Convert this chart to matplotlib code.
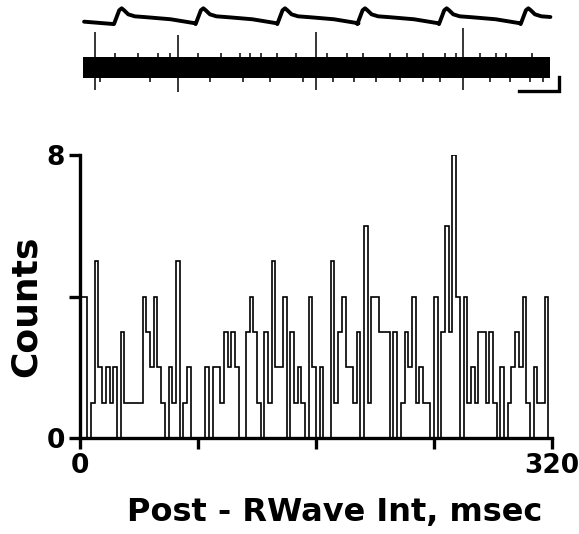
import numpy as np
import matplotlib
matplotlib.use('Agg')
import matplotlib.pyplot as plt

# histogram: 128 bins of 2.5 msec over 0-320 msec
bin_width = 2.5
counts = [4, 4, 0, 1, 5, 2, 1, 2, 1, 2, 0, 3, 1, 1, 1, 1, 1, 4, 3, 2,
          4, 2, 1, 0, 2, 1, 5, 0, 1, 2, 0, 0, 0, 0, 2, 0, 2, 2, 1, 3,
          2, 3, 2, 0, 0, 3, 4, 3, 1, 0, 3, 1, 5, 2, 2, 4, 0, 3, 1, 2,
          1, 0, 4, 2, 0, 2, 0, 0, 5, 1, 3, 4, 2, 2, 1, 3, 0, 6, 1, 4,
          4, 3, 3, 3, 0, 3, 0, 1, 3, 2, 4, 1, 2, 1, 1, 0, 4, 0, 3, 6,
          3, 8, 4, 0, 4, 1, 2, 1, 3, 3, 1, 3, 1, 0, 2, 0, 1, 2, 3, 2,
          4, 1, 0, 2, 1, 1, 4, 0]
x_ticks = [0, 80, 160, 240, 320]
x_ticklabels = ['0', '', '', '', '320']
y_ticks = [0, 4, 8]
y_ticklabels = ['0', '', '8']

# top traces (time in RR units)
beat_times = [0.51, 1.51, 2.51, 3.49, 4.49, 5.49]
beat_dt = [-0.094, -0.03, 0.0, 0.03, 0.08, 0.16, 0.31, 0.60, 0.90]
beat_v = [-0.18, 0.85, 1.0, 0.85, 0.55, 0.4, 0.33, 0.18, -0.12]
trace_start, trace_end = 0.05, 5.76

big_spike_t = [0.18, 1.20, 2.89, 4.69]
big_spike_up = [0.75, 0.68, 0.75, 0.83]
big_spike_down = [-0.47, -0.52, -0.47, -0.47]
up_tick_t = [0.43, 0.71, 0.96, 1.10, 1.45, 1.73, 1.96, 2.08, 2.22, 2.41, 2.65,
             3.02, 3.27, 3.47, 3.80, 4.00, 4.20, 4.47, 4.61, 4.90, 5.10, 5.22, 5.53]
down_tick_t = [0.24, 0.86, 1.59, 2.00, 2.33, 2.73, 3.10, 3.35, 3.63, 3.92,
               4.20, 4.41, 5.02, 5.27, 5.51, 5.67]

W, H = 579, 534
fig = plt.figure(figsize=(W / 100, H / 100), dpi=100)


def fbox(x0, y0, x1, y1):
    # pixel box (top-left origin) -> figure fraction rect
    return [x0 / W, 1 - y1 / H, (x1 - x0) / W, (y1 - y0) / H]


# ---- ECG trace
ax_ecg = fig.add_axes(fbox(80, 0, 570, 40))
ax_ecg.set_xlim(0, 6)
ax_ecg.set_ylim(-1.37, 1.62)
t = [trace_start]
v = [0.0]
for b in beat_times:
    t += [b + d for d in beat_dt]
    v += beat_v
t = np.array(t)
v = np.array(v)
keep = t <= trace_end
t_end_v = np.interp(trace_end, t, v)
ax_ecg.plot(np.append(t[keep], trace_end), np.append(v[keep], t_end_v),
            color='black', lw=2.8, solid_capstyle='round', solid_joinstyle='round')
ax_ecg.axis('off')

# ---- nerve activity trace
ax_n = fig.add_axes(fbox(80, 20, 570, 115))
ax_n.set_xlim(0, 6)
ax_n.set_ylim(-1, 1)
ax_n.fill_between([0.04, trace_end], -0.22, 0.22, color='black', lw=0)
ax_n.vlines(up_tick_t, 0.0, 0.31, color='black', lw=1.1)
ax_n.vlines(down_tick_t, -0.3, 0.0, color='black', lw=1.1)
ax_n.vlines(big_spike_t, big_spike_down, big_spike_up, color='black', lw=1.1)
# scale bar
ax_n.plot([5.37, 5.87, 5.87], [-0.5, -0.5, -0.2], color='black', lw=2.4,
          solid_joinstyle='miter')
ax_n.axis('off')

# ---- histogram
ax = fig.add_axes(fbox(80, 155, 552, 438))
edges = np.arange(len(counts) + 1) * bin_width
ax.stairs(counts, edges, color='black', lw=1.2, baseline=0)
ax.set_xlim(0, 320)
ax.set_ylim(0, 8)
for s in ['top', 'right']:
    ax.spines[s].set_visible(False)
for s in ['left', 'bottom']:
    ax.spines[s].set_linewidth(2.4)
ax.set_xticks(x_ticks)
ax.set_xticklabels(x_ticklabels)
ax.set_yticks(y_ticks)
ax.set_yticklabels(y_ticklabels)
ax.tick_params(axis='both', direction='out', length=8, width=2.4, pad=3,
               labelsize=19)
for lab in ax.get_xticklabels() + ax.get_yticklabels():
    lab.set_fontweight('bold')

fig.text(335 / W, 1 - 513 / H, 'Post - RWave Int, msec', ha='center', va='center',
         fontsize=23, fontweight='bold')
fig.text(26 / W, 1 - 306 / H, 'Counts', ha='center', va='center', rotation=90,
         fontsize=26, fontweight='bold')

fig.savefig('out.png', dpi=100)
